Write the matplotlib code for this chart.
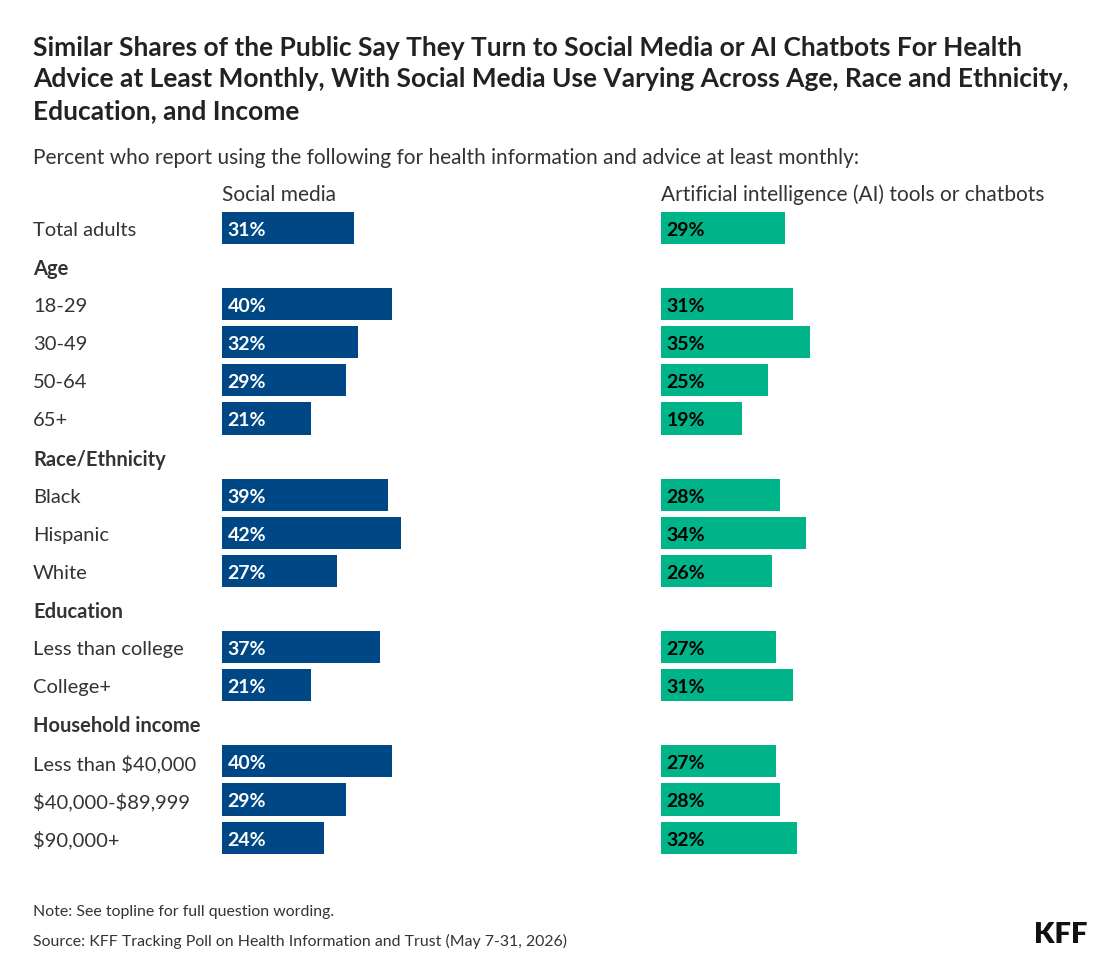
import matplotlib.pyplot as plt
from matplotlib.transforms import blended_transform_factory

# データ
labels = ["Total adults", "Age", "18-29", "30-49", "50-64", "65+",
          "Race/Ethnicity", "Black", "Hispanic", "White",
          "Education", "Less than college", "College+",
          "Household income", "Less than \\$40,000", "\\$40,000-\\$89,999", "\\$90,000+"]
is_header = [False, True, False, False, False, False,
             True, False, False, False,
             True, False, False,
             True, False, False, False]
social = [31, None, 40, 32, 29, 21, None, 39, 42, 27, None, 37, 21, None, 40, 29, 24]
ai_tools = [29, None, 31, 35, 25, 19, None, 28, 34, 26, None, 27, 31, None, 27, 28, 32]

col_titles = ["Social media", "Artificial intelligence (AI) tools or chatbots"]
title = ("Similar Shares of the Public Say They Turn to Social Media or AI Chatbots For Health\n"
         "Advice at Least Monthly, With Social Media Use Varying Across Age, Race and Ethnicity,\n"
         "Education, and Income")
subtitle = "Percent who report using the following for health information and advice at least monthly:"
note = "Note: See topline for full question wording."
source = "Source: KFF Tracking Poll on Health Information and Trust (May 7-31, 2026)"

BLUE = "#004785"
GREEN = "#00b48a"
TXT = "#333333"

plt.rcParams['font.family'] = ['Lato', 'DejaVu Sans']

W, H = 1120, 978
fig = plt.figure(figsize=(W / 100, H / 100), dpi=100)

row_h = 38.1
n = len(labels)
top_px = 229 - row_h / 2
ax_h = n * row_h
ppp = 4.26  # pixels per percent
ax_w = 50 * ppp

def make_ax(left_px):
    ax = fig.add_axes([left_px / W, (H - top_px - ax_h) / H, ax_w / W, ax_h / H])
    ax.set_xlim(0, 50)
    ax.set_ylim(n - 0.5, -0.5)
    ax.axis('off')
    return ax

ax1 = make_ax(222)
ax2 = make_ax(661)

for ax, vals, color, tcolor in [(ax1, social, BLUE, "white"), (ax2, ai_tools, GREEN, "black")]:
    for i, v in enumerate(vals):
        if v is None:
            continue
        ax.barh(i, v, height=0.84, color=color)
        ax.text(1.3, i, f"{v}%", va='center_baseline', ha='left', color=tcolor,
                fontsize=14, fontweight='bold')

tr = blended_transform_factory(fig.transFigure, ax1.transData)
for i, (lab, hd) in enumerate(zip(labels, is_header)):
    ax1.text(33 / W, i, lab, transform=tr, va='center_baseline', ha='left', color=TXT,
             fontsize=14.5, fontweight='bold' if hd else 'normal')

fig.text(222 / W, 1 - 193 / H, col_titles[0], va='center_baseline', ha='left', color=TXT, fontsize=15)
fig.text(661 / W, 1 - 193 / H, col_titles[1], va='center_baseline', ha='left', color=TXT, fontsize=15)

fig.text(33 / W, 1 - 36 / H, title, va='top', ha='left', color="#222222",
         fontsize=19, fontweight='bold', linespacing=1.37)
fig.text(33 / W, 1 - 156 / H, subtitle, va='center_baseline', ha='left', color=TXT, fontsize=15)

fig.text(33 / W, 1 - 911 / H, note, va='center_baseline', ha='left', color=TXT, fontsize=11.4)
fig.text(33 / W, 1 - 940 / H, source, va='center_baseline', ha='left', color=TXT, fontsize=11.4)
fig.text(1088 / W, 1 - 935 / H, "KFF", va='center', ha='right', color="#111111",
         fontsize=21, fontweight='heavy')

plt.savefig("out.png", dpi=100, facecolor='white')
